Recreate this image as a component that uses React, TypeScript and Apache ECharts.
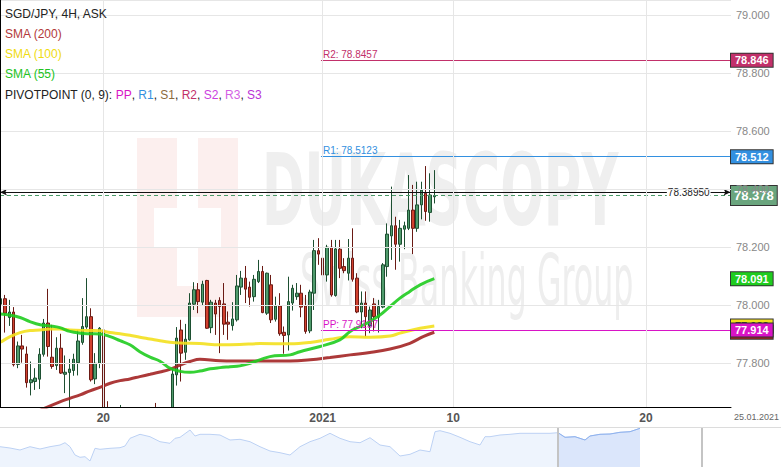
import React, { useEffect, useRef } from "react";
import * as echarts from "echarts";

// 4H candles, one per trading slot: [open, high, low, close]
const candleOHLC: [number, number, number, number][] = [
  [78.003, 78.110, 78.000, 78.022],
  [78.022, 78.035, 77.905, 77.972],
  [77.957, 78.018, 77.928, 77.976],
  [77.976, 77.993, 77.788, 77.794],
  [77.795, 77.874, 77.782, 77.859],
  [77.859, 77.897, 77.801, 77.848],
  [77.831, 77.857, 77.715, 77.732],
  [77.732, 77.805, 77.688, 77.742],
  [77.736, 77.782, 77.707, 77.748],
  [77.744, 77.851, 77.710, 77.830],
  [77.830, 77.952, 77.822, 77.938],
  [77.938, 78.056, 77.822, 77.857],
  [77.820, 77.932, 77.780, 77.788],
  [77.791, 77.889, 77.776, 77.851],
  [77.851, 77.901, 77.762, 77.765],
  [77.761, 77.826, 77.696, 77.768],
  [77.767, 77.814, 77.640, 77.779],
  [77.774, 77.832, 77.756, 77.813],
  [77.801, 77.914, 77.757, 77.876],
  [77.871, 78.024, 77.863, 77.926],
  [77.924, 78.093, 77.918, 77.960],
  [77.960, 77.989, 77.736, 77.742],
  [77.745, 77.834, 77.727, 77.799],
  [77.799, 77.924, 77.782, 77.920],
  [77.914, 77.945, 77.560, 77.600],
  [77.600, 77.668, 77.480, 77.520],
  [77.520, 77.600, 77.420, 77.480],
  [77.480, 77.610, 77.440, 77.550],
  [77.550, 77.655, 77.500, 77.580],
  [77.580, 77.620, 77.480, 77.520],
  [77.520, 77.570, 77.430, 77.470],
  [77.470, 77.550, 77.410, 77.500],
  [77.500, 77.590, 77.460, 77.540],
  [77.540, 77.600, 77.470, 77.510],
  [77.510, 77.610, 77.480, 77.560],
  [77.560, 77.620, 77.490, 77.530],
  [77.580, 77.662, 77.500, 77.540],
  [77.540, 77.600, 77.500, 77.560],
  [77.560, 77.610, 77.510, 77.550],
  [77.550, 77.630, 77.520, 77.590],
  [77.590, 77.782, 77.570, 77.762],
  [77.759, 77.924, 77.722, 77.886],
  [77.914, 77.949, 77.736, 77.834],
  [77.837, 77.935, 77.811, 77.882],
  [77.880, 78.041, 77.877, 78.007],
  [78.003, 78.079, 77.983, 78.053],
  [78.053, 78.076, 77.972, 78.012],
  [78.010, 78.084, 77.998, 78.072],
  [78.085, 78.087, 77.918, 77.920],
  [77.922, 78.018, 77.903, 78.010],
  [78.007, 78.018, 77.897, 77.969],
  [78.016, 78.027, 77.834, 77.995],
  [78.004, 78.076, 77.897, 77.934],
  [77.941, 77.978, 77.880, 77.934],
  [77.929, 78.010, 77.912, 77.952],
  [77.949, 78.104, 77.943, 78.066],
  [78.062, 78.118, 78.035, 78.093],
  [78.093, 78.135, 78.007, 78.055],
  [78.062, 78.081, 77.995, 78.027],
  [78.029, 78.104, 78.012, 78.089],
  [78.081, 78.156, 78.076, 78.116],
  [78.116, 78.135, 77.972, 77.974],
  [77.972, 78.112, 77.966, 78.110],
  [78.070, 78.104, 77.938, 77.949],
  [77.951, 78.029, 77.943, 77.997],
  [77.997, 78.041, 77.894, 77.901],
  [77.906, 77.926, 77.832, 77.895],
  [77.897, 78.098, 77.843, 78.012],
  [78.007, 78.070, 77.981, 78.058],
  [78.029, 78.076, 78.018, 78.041],
  [78.041, 78.070, 77.958, 77.993],
  [77.997, 78.035, 77.901, 77.909],
  [77.911, 78.053, 77.903, 78.045],
  [78.041, 78.225, 77.983, 78.188],
  [78.188, 78.231, 78.139, 78.176],
  [78.162, 78.245, 78.001, 78.104],
  [78.104, 78.208, 78.081, 78.200],
  [78.200, 78.225, 78.029, 78.035],
  [78.033, 78.225, 78.029, 78.194],
  [78.193, 78.225, 78.093, 78.127],
  [78.133, 78.162, 78.110, 78.119],
  [78.110, 78.228, 78.085, 78.162],
  [78.162, 78.265, 78.081, 78.089],
  [78.093, 78.110, 77.972, 77.976],
  [77.976, 78.047, 77.920, 78.007],
  [78.007, 78.047, 77.891, 77.960],
  [77.928, 77.995, 77.903, 77.983],
  [78.004, 78.024, 77.909, 77.960],
  [77.958, 78.018, 77.905, 77.995],
  [77.993, 78.145, 77.989, 78.139],
  [78.133, 78.282, 78.098, 78.245],
  [78.239, 78.409, 78.156, 78.274],
  [78.274, 78.305, 78.122, 78.210],
  [78.210, 78.294, 78.150, 78.265],
  [78.262, 78.288, 78.193, 78.274],
  [78.265, 78.449, 78.259, 78.328],
  [78.328, 78.415, 78.176, 78.265],
  [78.265, 78.426, 78.253, 78.346],
  [78.346, 78.426, 78.296, 78.397],
  [78.386, 78.480, 78.291, 78.323],
  [78.320, 78.455, 78.288, 78.380],
  [78.374, 78.466, 78.351, 78.378],
];

// moving averages: [candle slot, value]
const sma200Points: [number, number][] = [
  [0, 77.576], [7, 77.621], [10.3, 77.644], [13.8, 77.666], [16.1, 77.678], [18.5, 77.69],
  [20.8, 77.704], [23.1, 77.716], [25.5, 77.73], [27.8, 77.739], [30.1, 77.745], [32.4, 77.753],
  [34.8, 77.761], [37.1, 77.769], [39.4, 77.778], [41.8, 77.793], [44.1, 77.805], [46.4, 77.813],
  [51.1, 77.808], [58.1, 77.807], [67.4, 77.807], [72.1, 77.811], [76.7, 77.819], [81.4, 77.828],
  [86, 77.836], [90.7, 77.848], [95.3, 77.868], [98.4, 77.891], [101, 77.906],
];
const sma100Points: [number, number][] = [
  [0, 77.872], [2.2, 77.891], [4.5, 77.905], [6.8, 77.912], [9.2, 77.914], [11.5, 77.917],
  [13.8, 77.917], [16.1, 77.914], [20.8, 77.912], [23.1, 77.911], [25.5, 77.905], [27.8, 77.901],
  [30.1, 77.896], [32.4, 77.889], [34.8, 77.883], [37.1, 77.877], [39.4, 77.872], [41.8, 77.869],
  [46.4, 77.867], [51.1, 77.863], [55.7, 77.864], [60.4, 77.867], [67.4, 77.866], [72.1, 77.871],
  [76.7, 77.882], [81.4, 77.891], [86, 77.889], [90.7, 77.893], [93, 77.903], [97.7, 77.92],
  [101, 77.928],
];
const sma55Points: [number, number][] = [
  [0, 77.969], [2.2, 77.965], [4.5, 77.957], [6.8, 77.943], [9.2, 77.932], [11.5, 77.928],
  [13.8, 77.922], [16.1, 77.909], [18.5, 77.903], [20.8, 77.901], [23.1, 77.9], [25.5, 77.891],
  [27.8, 77.877], [30.1, 77.863], [32.4, 77.839], [34.8, 77.82], [37.1, 77.806], [39.4, 77.782],
  [41.8, 77.771], [44.1, 77.768], [46.4, 77.772], [48.8, 77.78], [51.1, 77.784], [53.4, 77.787],
  [55.7, 77.79], [58.1, 77.799], [62.7, 77.822], [67.4, 77.828], [69.7, 77.839], [74.4, 77.857],
  [79, 77.88], [81.4, 77.909], [83.7, 77.926], [86, 77.943], [88.4, 77.966], [90.7, 77.995],
  [93, 78.024], [95.3, 78.047], [97.7, 78.07], [101, 78.091],
];

// navigator overview: [overview slot, price]
const navigatorPoints: [number, number][] = [
  [0, 77.665], [10, 77.6], [20, 77.5], [30, 77.665], [40, 77.55], [50, 77.665], [60, 77.75],
  [65, 77.865], [70, 77.665], [75, 77.25], [80, 77.135], [85, 77.165], [90, 76.95], [95, 77.585],
  [100, 77.535], [110, 77.585], [120, 77.615], [125, 77.7], [130, 78.085], [140, 78.285],
  [150, 78.165], [160, 77.915], [170, 77.835], [175, 78.085], [180, 78.135], [190, 78.5],
  [195, 78.2], [200, 78.285], [210, 78.285], [220, 78.25], [230, 78.0], [240, 78.035],
  [250, 77.915], [260, 77.665], [270, 77.45], [280, 77.365], [290, 77.25], [300, 77.665],
  [310, 77.915], [320, 78.085], [330, 78.335], [340, 78.085], [350, 77.915], [360, 77.865],
  [370, 78.115], [380, 77.75], [390, 77.665], [400, 77.2], [410, 77.285], [420, 77.5],
  [430, 77.415], [435, 78.415], [440, 78.465], [450, 78.335], [460, 78.135], [470, 77.915],
  [480, 77.75], [485, 78.165], [490, 78.165], [500, 78.25], [510, 78.285], [520, 78.335],
  [530, 78.335], [540, 78.335], [550, 78.335], [558, 78.365], [565, 78.135], [575, 78.165],
  [585, 78.0], [590, 78.2], [600, 78.285], [610, 78.3], [620, 78.385], [630, 78.415],
  [640, 78.585],
];
const navigatorWindow = [558, 702];

const pivotR2 = 78.8457;
const pivotR1 = 78.5123;
const pivotPP = 77.9137;
const pivotStartSlot = 74.6;
const lastBid = 78.3895;
const lastAsk = 78.378;

const dayTickValues = [23.9, 75, 105.4, 150.3];
const dayTickLabels = ["20", "2021", "10", "20"];
const rightEdgeDate = "25.01.2021";

const X_MIN = -0.163;
const X_MAX = 170.11;
const Y_MIN = 77.648;
const Y_MAX = 79.0535;

const FONT = "'Liberation Sans', Arial, sans-serif";

const C = {
  up: "#4f9b6c",
  upBorder: "#1d4f31",
  down: "#d2412f",
  downBorder: "#6a1a14",
  sma200: "#a32424",
  sma100: "#f3e01e",
  sma55: "#1fcc1f",
  r2: "#c2306a",
  r1: "#3390e0",
  pp: "#d814c6",
  ask: "#4a9a68",
};

function tag(value: number, bg: string, text: string, color = "#fff", fontSize = 11, padding: number[] = [1, 4]) {
  return [
    {
      coord: [X_MAX - 1, value],
      lineStyle: { width: 0, color: "rgba(0,0,0,0)" },
      label: {
        show: true,
        position: "end",
        distance: 0,
        formatter: text,
        backgroundColor: bg,
        color,
        fontSize,
        fontWeight: "bold",
        fontFamily: FONT,
        padding,
        borderColor: "#333",
        borderWidth: 1,
      },
    },
    { coord: [X_MAX, value] },
  ];
}

function pivotLine(value: number, name: string, color: string) {
  return [
    {
      coord: [pivotStartSlot, value],
      lineStyle: { color, width: 1, type: "solid" },
      label: {
        show: true,
        position: "insideStartTop",
        formatter: `${name}: ${value.toFixed(4)}`,
        color,
        fontSize: 10,
        fontFamily: FONT,
        distance: [2, 1],
      },
    },
    { coord: [X_MAX, value] },
  ];
}

function buildOption() {
  const candleData = candleOHLC.map(([o, h, l, c], i) => [i, o, c, l, h]);
  const windowPoints = navigatorPoints.filter((p) => p[0] >= navigatorWindow[0]);
  const last = (pts: [number, number][]) => pts[pts.length - 1][1];

  const markLineData: any[] = [
    pivotLine(pivotR2, "R2", C.r2),
    pivotLine(pivotR1, "R1", C.r1),
    pivotLine(pivotPP, "PP", C.pp),
    [
      { coord: [X_MIN, lastAsk], lineStyle: { color: C.ask, width: 1, type: [4, 3] }, label: { show: false } },
      { coord: [X_MAX, lastAsk] },
    ],
    [
      {
        coord: [X_MIN, lastBid],
        symbol: "arrow",
        symbolSize: [5, 7],
        lineStyle: { color: "#111", width: 1, type: "solid" },
        label: {
          show: true,
          position: "insideEnd",
          formatter: lastBid.toFixed(5),
          color: "#222",
          fontSize: 10,
          fontFamily: FONT,
          backgroundColor: "#fff",
          padding: [0, 1],
          distance: 20,
        },
      },
      { coord: [X_MAX - 0.1, lastBid], symbol: "arrow", symbolSize: [5, 7] },
    ],
    tag(last(sma200Points), C.sma200, last(sma200Points).toFixed(3)),
    tag(last(sma100Points), C.sma100, last(sma100Points).toFixed(3), "#333"),
    tag(last(sma55Points), C.sma55, last(sma55Points).toFixed(3)),
    tag(pivotPP, C.pp, pivotPP.toFixed(3)),
    tag(pivotR1, C.r1, pivotR1.toFixed(3)),
    tag(pivotR2, C.r2, pivotR2.toFixed(3)),
    tag(lastAsk, "#6aa57e", lastAsk.toFixed(3), "#fff", 13, [3, 3]),
  ];

  const smaSeries = (name: string, pts: [number, number][], color: string) => ({
    type: "line",
    name,
    xAxisIndex: 0,
    yAxisIndex: 0,
    data: pts,
    smooth: 0.4,
    symbol: "none",
    clip: true,
    z: 3,
    lineStyle: { color, width: 3, opacity: 0.9 },
    silent: true,
  });

  const legendRich = {
    k: { fill: "#222", fontSize: 12, fontFamily: FONT },
    pp: { fill: C.pp, fontSize: 12, fontFamily: FONT },
    r1: { fill: C.r1, fontSize: 12, fontFamily: FONT },
    s1: { fill: "#8c6b3c", fontSize: 12, fontFamily: FONT },
    r2: { fill: C.r2, fontSize: 12, fontFamily: FONT },
    s2: { fill: "#cc3fe0", fontSize: 12, fontFamily: FONT },
    r3: { fill: "#d45fe4", fontSize: 12, fontFamily: FONT },
    s3: { fill: "#b932d6", fontSize: 12, fontFamily: FONT },
  };

  const legendText = (y: number, text: string, fill: string) => ({
    type: "text",
    left: 5,
    top: y - 7,
    z: 20,
    style: { text, fill, fontSize: 12, fontFamily: FONT },
  });

  return {
    animation: false,
    textStyle: { fontFamily: FONT },
    grid: [
      { left: 0, top: 0, width: 731, height: 407, containLabel: false },
      { left: 0, top: 427, width: 781, height: 40, containLabel: false },
    ],
    xAxis: [
      {
        type: "value",
        gridIndex: 0,
        min: X_MIN,
        max: X_MAX,
        z: 10,
        axisLine: { show: true, onZero: false, lineStyle: { color: "#000", width: 1 } },
        axisTick: { show: false, customValues: dayTickValues },
        axisLabel: {
          customValues: dayTickValues,
          formatter: (v: number) => {
            const k = dayTickValues.findIndex((t) => Math.abs(t - v) < 0.01);
            return k >= 0 ? dayTickLabels[k] : "";
          },
          color: "#555",
          fontSize: 12,
          fontWeight: "bold",
          margin: 5,
        },
        splitLine: { show: true, lineStyle: { color: "#e6e6e6", width: 1 } },
      },
      { type: "value", gridIndex: 1, min: 0, max: 781, show: false },
    ],
    yAxis: [
      {
        type: "value",
        gridIndex: 0,
        position: "right",
        min: Y_MIN,
        max: Y_MAX,
        splitNumber: 7,
        minInterval: 0.2,
        maxInterval: 0.2,
        z: 10,
        axisLine: { show: true, lineStyle: { color: "#000", width: 1 } },
        axisTick: { show: false },
        axisLabel: {
          showMinLabel: false,
          showMaxLabel: false,
          formatter: (v: number) => v.toFixed(3),
          color: "#888",
          fontSize: 11,
          margin: 5,
        },
        splitLine: { show: true, lineStyle: { color: "#e6e6e6", width: 1 } },
      },
      { type: "value", gridIndex: 1, min: 76.65, max: 78.65, show: false },
    ],
    graphic: [
      // watermark logo
      { type: "rect", shape: { x: 137, y: 138, width: 101, height: 179 }, style: { fill: "#fcefee" }, z: -5, silent: true },
      { type: "rect", shape: { x: 177, y: 138, width: 21, height: 148 }, style: { fill: "#ffffff" }, z: -4, silent: true },
      { type: "rect", shape: { x: 154, y: 208, width: 67, height: 39 }, style: { fill: "#ffffff" }, z: -4, silent: true },
      {
        type: "text",
        x: 262,
        y: 140,
        scaleX: 0.57,
        z: -4,
        silent: true,
        style: { text: "DUKASCOPY", fill: "#efefef", font: "bold 100px 'DejaVu Sans Condensed', 'DejaVu Sans', sans-serif", textVerticalAlign: "top" },
      },
      {
        type: "text",
        x: 300,
        y: 244,
        scaleX: 0.49,
        z: -4,
        silent: true,
        style: { text: "Swiss Banking Group", fill: "#eeeeee", font: "normal 72px 'DejaVu Sans Condensed', 'DejaVu Sans', sans-serif", textVerticalAlign: "top" },
      },
      // cover for candles that run below the plot
      { type: "rect", shape: { x: 0, y: 408, width: 781, height: 59 }, style: { fill: "#ffffff" }, z: 3, silent: true },
      // legend
      legendText(15, "SGD/JPY, 4H, ASK", "#222"),
      legendText(35, "SMA (200)", "#b23a3a"),
      legendText(55, "SMA (100)", "#f0dc10"),
      legendText(75, "SMA (55)", "#22c322"),
      {
        type: "text",
        left: 5,
        top: 89,
        z: 20,
        style: {
          text: "{k|PIVOTPOINT (0, 9): }{pp|PP}{k|, }{r1|R1}{k|, }{s1|S1}{k|, }{r2|R2}{k|, }{s2|S2}{k|, }{r3|R3}{k|, }{s3|S3}",
          rich: legendRich,
          fontSize: 12,
          fontFamily: FONT,
        },
      },
      // date at right edge
      { type: "text", left: 734, top: 412, z: 20, style: { text: rightEdgeDate, fill: "#666", fontSize: 9, fontFamily: FONT } },
      // navigator top border
      { type: "line", shape: { x1: 0, y1: 427.5, x2: 781, y2: 427.5 }, style: { stroke: "#dcdcdc", lineWidth: 1 }, z: 20, silent: true },
    ],
    series: [
      {
        type: "candlestick",
        xAxisIndex: 0,
        yAxisIndex: 0,
        data: candleData,
        barWidth: 3,
        clip: true,
        z: 2,
        itemStyle: {
          color: C.up,
          color0: C.down,
          borderColor: C.upBorder,
          borderColor0: C.downBorder,
          borderWidth: 1,
        },
        silent: true,
      },
      smaSeries("SMA (200)", sma200Points, C.sma200),
      smaSeries("SMA (100)", sma100Points, C.sma100),
      smaSeries("SMA (55)", sma55Points, C.sma55),
      {
        type: "line",
        name: "levels",
        xAxisIndex: 0,
        yAxisIndex: 0,
        data: [],
        z: 5,
        silent: true,
        markLine: {
          silent: true,
          symbol: "none",
          animation: false,
          precision: 4,
          data: markLineData,
        },
      },
      {
        type: "line",
        name: "navigator",
        xAxisIndex: 1,
        yAxisIndex: 1,
        data: navigatorPoints,
        symbol: "none",
        lineStyle: { color: "#bcd1f4", width: 1 },
        areaStyle: { color: "#eef4fd", opacity: 1 },
        silent: true,
        z: 4,
        markLine: {
          silent: true,
          symbol: "none",
          label: { show: false },
          lineStyle: { color: "#c4c4c4", width: 2, type: "solid" },
          data: navigatorWindow.map((x) => ({ xAxis: x })),
        },
      },
      {
        type: "line",
        name: "navigator window",
        xAxisIndex: 1,
        yAxisIndex: 1,
        data: windowPoints,
        symbol: "none",
        lineStyle: { color: "#8fb2ee", width: 1 },
        areaStyle: { color: "#dbe6fb", opacity: 1 },
        silent: true,
        z: 4,
      },
    ],
  };
}

export default function App() {
  const ref = useRef<HTMLDivElement>(null);
  useEffect(() => {
    if (!ref.current) return;
    const chart = echarts.init(ref.current, null, { renderer: "svg" });
    chart.setOption(buildOption() as any);
    return () => chart.dispose();
  }, []);
  return (
    <div
      ref={ref}
      style={{ position: "absolute", left: 0, top: 0, width: 781, height: 467, background: "#fff" }}
    />
  );
}
